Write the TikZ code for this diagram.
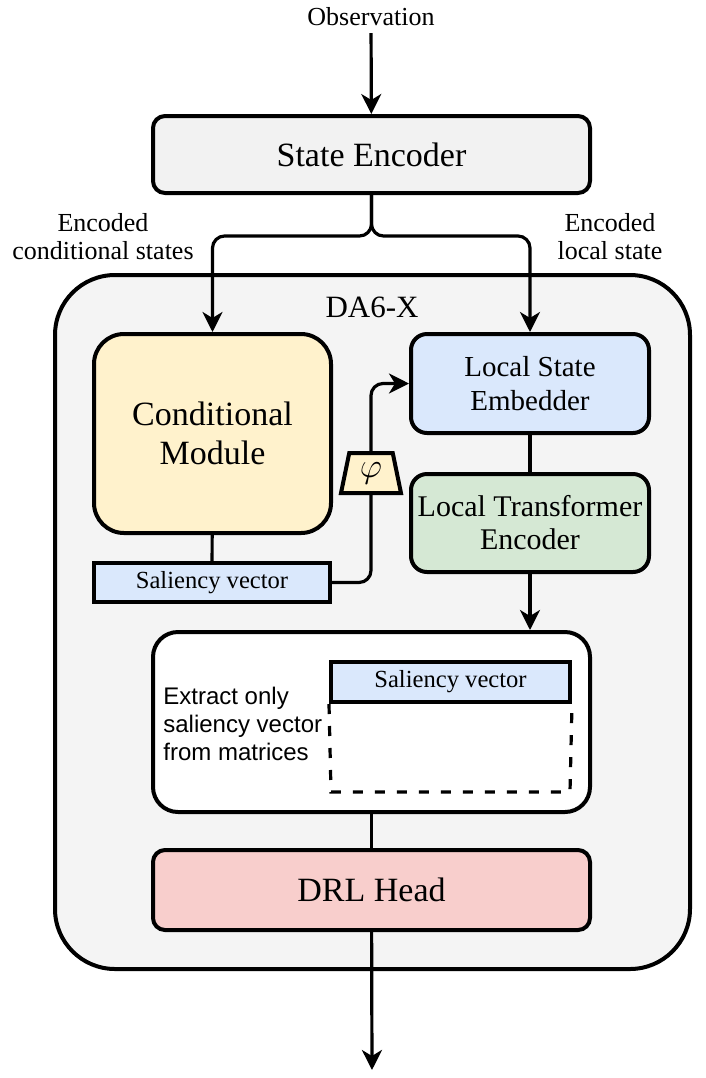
\documentclass[tikz,border=0pt]{standalone}
\usepackage{fontspec}
\setmainfont{Liberation Serif}
\setsansfont{Liberation Sans}
\usetikzlibrary{arrows.meta, positioning, shapes.geometric}

\definecolor{boxGray}{HTML}{F2F2F2}
\definecolor{outerGray}{HTML}{F4F4F4}
\definecolor{condYellow}{HTML}{FFF2CC}
\definecolor{embBlue}{HTML}{DAE8FC}
\definecolor{encGreen}{HTML}{D5E8D4}
\definecolor{headRed}{HTML}{F8CECC}

\begin{document}
\begin{tikzpicture}[
        x=0.5pt, y=-0.5pt,
        blockNode/.style={rectangle, draw, line width=2pt, rounded corners=6pt, align=center, inner sep=1pt},
        vecNode/.style={rectangle, draw, line width=2pt, fill=embBlue, minimum width=118pt, minimum height=19.5pt, inner sep=1pt, font=\fontsize{12.3}{14}\selectfont},
        labelNode/.style={align=center, font=\fontsize{13}{14}\selectfont},
        arrow/.style={-{Stealth[length=10pt, width=10pt, inset=3pt]}, line width=1.6pt},
        link/.style={line width=1.6pt},
        matrixEdge/.style={line width=1.6pt, dash pattern=on 5pt off 6pt}
    ]
        \useasboundingbox (0,0) rectangle (706,1078);

        \node[rectangle, draw, line width=2pt, rounded corners=30pt, fill=outerGray, minimum width=317.5pt, minimum height=347pt] (da6) at (372.5,622) {};
        \node[labelNode, font=\fontsize{15.5}{17}\selectfont] (da6Label) at (372,307) {DA6-X};

        \node[labelNode] (obs) at (371,17) {Observation};
        \node[blockNode, fill=boxGray, minimum width=218.5pt, minimum height=38.5pt, font=\fontsize{17}{20}\selectfont] (enc) at (371.5,154.5) {State Encoder};
        \node[labelNode] (condLabel) at (103,237) {Encoded\\conditional states};
        \node[labelNode] (localLabel) at (610,237) {Encoded\\local state};

        \node[blockNode, fill=condYellow, rounded corners=15pt, minimum width=118.5pt, minimum height=99.5pt, font=\fontsize{17}{19.5}\selectfont] (cond) at (212.5,433.5) {Conditional\\Module};
        \node[vecNode] (salL) at (212,582.5) {Saliency vector};
        \node[trapezium, draw, line width=2pt, fill=condYellow, trapezium stretches=true, trapezium left angle=79, trapezium right angle=79, minimum width=30pt, minimum height=20pt, inner sep=0pt, font=\fontsize{19}{19}\selectfont] (phi) at (371,473) {$\varphi$};

        \node[blockNode, fill=embBlue, rounded corners=8pt, minimum width=119pt, minimum height=49.5pt, font=\fontsize{14.5}{17}\selectfont] (lse) at (530,383.5) {Local State\\Embedder};
        \node[blockNode, fill=encGreen, rounded corners=8pt, minimum width=119pt, minimum height=49pt, font=\fontsize{15}{16.5}\selectfont] (lte) at (530,523) {Local Transformer\\Encoder};

        \node[rectangle, draw, line width=2pt, rounded corners=12.5pt, fill=white, minimum width=218.5pt, minimum height=90pt] (ext) at (371.5,722) {};
        \node[anchor=west, align=left, inner sep=0pt, font=\sffamily\fontsize{12}{14}\selectfont] (extText) at (163,724) {Extract only\\saliency vector\\from matrices};
        \node[vecNode, minimum width=119.5pt, minimum height=20pt] (salR) at (450.5,682) {Saliency vector};
        \coordinate (matBL) at (331,792);
        \coordinate (matBR) at (570,792);

        \node[blockNode, fill=headRed, minimum width=218.5pt, minimum height=40pt, font=\fontsize{17}{20}\selectfont] (drl) at (371.5,890) {DRL Head};
        \coordinate (split) at (371.5,236);
        \coordinate (out) at (372,1070);

        \draw[arrow] (obs) -- (enc);
        \draw[arrow, rounded corners=6pt] (enc.south) -- (split) -| (cond.north);
        \draw[arrow, rounded corners=6pt] (enc.south) -- (split) -| (lse.north);
        \draw[link] (cond) -- (salL);
        \draw[link, rounded corners=6pt] (salL.east) -| (phi.south);
        \draw[arrow, rounded corners=6pt] (phi.north) |- (lse.west);
        \draw[link] (lse) -- (lte);
        \draw[arrow] (lte.south) -- (lte.south |- ext.north);
        \draw[matrixEdge] (salR.south west) -- (matBL) -- (matBR) -- (salR.south east);
        \draw[link] (ext) -- (drl);
        \draw[arrow] (drl) -- (out);
    \end{tikzpicture}
\end{document}
